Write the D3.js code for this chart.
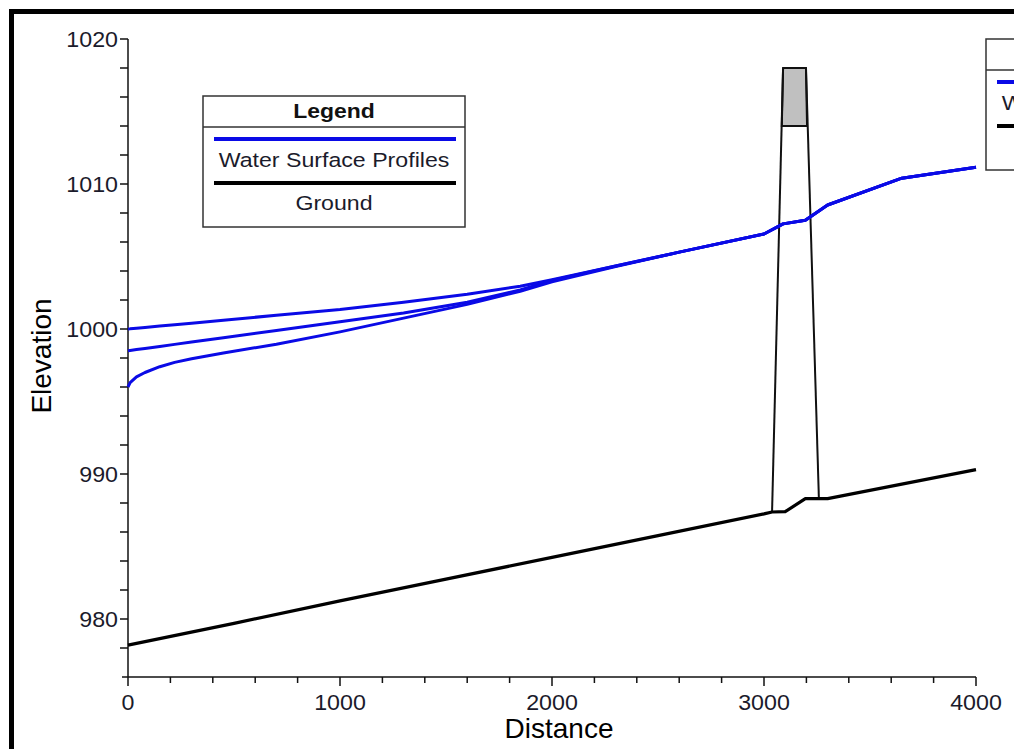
<!DOCTYPE html>
<html><head><meta charset="utf-8">
<script src="https://cdn.jsdelivr.net/npm/d3@7/dist/d3.min.js"></script>
<style>body{margin:0;background:#fff}svg{display:block}text{font-family:"Liberation Sans",Arial,sans-serif}</style>
</head><body>
<svg id="c" width="1014" height="749"></svg>
<script>
// ---- data ----
const profileDist = [0, 10, 40, 80, 150, 220, 300, 450, 700, 1000, 1300, 1600, 1850, 2000, 2300, 2600, 3000, 3090, 3195, 3300, 3650, 4000];
const wsProfile1 = [1000.0, 1000.01, 1000.05, 1000.1, 1000.2, 1000.29, 1000.4, 1000.6, 1000.95, 1001.35, 1001.85, 1002.4, 1002.95, 1003.4, 1004.35, 1005.3, 1006.55, 1007.25, 1007.5, 1008.55, 1010.4, 1011.15];
const wsProfile2 = [998.5, 998.52, 998.58, 998.66, 998.8, 998.94, 999.1, 999.4, 999.9, 1000.5, 1001.1, 1001.85, 1002.7, 1003.35, 1004.35, 1005.3, 1006.55, 1007.25, 1007.5, 1008.55, 1010.4, 1011.15];
const wsProfile3 = [996.0, 996.3, 996.7, 997.0, 997.4, 997.7, 997.95, 998.35, 998.95, 999.8, 1000.75, 1001.7, 1002.6, 1003.25, 1004.3, 1005.3, 1006.55, 1007.25, 1007.5, 1008.55, 1010.4, 1011.15];
const groundDist = [0, 500, 1000, 1500, 2000, 2500, 3000, 3038, 3100, 3195, 3300, 3650, 4000];
const groundElev = [978.2, 979.7, 981.25, 982.75, 984.25, 985.75, 987.25, 987.38, 987.4, 988.3, 988.3, 989.3, 990.3];
const bridgeDeckDist = [3090, 3198, 3203, 3084];
const bridgeDeckElev = [1018, 1018, 1014, 1014];
const bridgePierLeft = [[3090, 1018], [3038, 987.38]];
const bridgePierRight = [[3198, 1018], [3259, 988.27]];
const xMajorTicks = [0, 1000, 2000, 3000, 4000];
const yMajorTicks = [980, 990, 1000, 1010, 1020];
const legendItems = ["Water Surface Profiles", "Ground"];
const legendTitle = "Legend";
const xTitle = "Distance", yTitle = "Elevation";

// ---- chart ----
const svg = d3.select("#c");
const x = d3.scaleLinear().domain([0, 4000]).range([128, 976]);
const y = d3.scaleLinear().domain([976, 1020]).range([677, 39]);

// frame
svg.append("rect").attr("x", 11.5).attr("y", 11.5).attr("width", 1100).attr("height", 900)
  .attr("fill", "none").attr("stroke", "#000").attr("stroke-width", 5);

function stretchText(g, txt, px, py, size, sx, opts = {}) {
  return g.append("text").text(txt)
    .attr("transform", `translate(${px},${py}) scale(${sx},1)`)
    .attr("font-size", size)
    .attr("text-anchor", opts.anchor || "middle")
    .attr("font-weight", opts.weight || "normal")
    .attr("fill", opts.fill || "#1b1b2b");
}

// axes
const ax = svg.append("g").attr("stroke", "#111").attr("stroke-width", 1.5);
ax.append("line").attr("x1", x(0)).attr("x2", x(0)).attr("y1", y(1020)).attr("y2", y(976));
ax.append("line").attr("x1", x(0) - 6).attr("x2", x(4000)).attr("y1", y(976)).attr("y2", y(976));
const yMinor = d3.range(978, 1021, 2);
yMinor.forEach(v => ax.append("line").attr("x1", x(0) - 8).attr("x2", x(0)).attr("y1", y(v)).attr("y2", y(v)));
const xMinor = d3.range(0, 4001, 200);
xMinor.forEach(v => {
  const major = xMajorTicks.includes(v);
  ax.append("line").attr("x1", x(v)).attr("x2", x(v)).attr("y1", y(976)).attr("y2", y(976) + (major ? 9 : 6));
});
yMajorTicks.forEach(v => stretchText(svg, String(v), x(0) - 10, y(v) + 8, 21.5, 1.08, {anchor: "end"}));
xMajorTicks.forEach(v => stretchText(svg, String(v), x(v), 710, 21.5, 1.08));
stretchText(svg, xTitle, 559, 738, 28, 1, {fill: "#000"});
svg.append("text").text(yTitle).attr("transform", `translate(51,356) rotate(-90)`)
  .attr("font-size", 28).attr("text-anchor", "middle").attr("fill", "#000");

// bridge
const deckPts = bridgeDeckDist.map((d, i) => [x(d), y(bridgeDeckElev[i])]);
svg.append("polygon").attr("points", deckPts.map(p => p.join(",")).join(" "))
  .attr("fill", "#c0c0c0").attr("stroke", "#111").attr("stroke-width", 2);
const lineXY = d3.line().x(d => x(d[0])).y(d => y(d[1]));
[bridgePierLeft, bridgePierRight].forEach(p =>
  svg.append("path").attr("d", lineXY(p)).attr("fill", "none").attr("stroke", "#111").attr("stroke-width", 2));

// ground
const ground = groundDist.map((d, i) => [d, groundElev[i]]);
svg.append("path").attr("d", lineXY(ground)).attr("fill", "none").attr("stroke", "#000")
  .attr("stroke-width", 3.2).attr("stroke-linejoin", "round");

// water surface profiles
[wsProfile1, wsProfile2, wsProfile3].forEach(vals => {
  svg.append("path").attr("d", lineXY(profileDist.map((d, i) => [d, vals[i]])))
    .attr("fill", "none").attr("stroke", "#0a0ae6").attr("stroke-width", 3).attr("stroke-linejoin", "round");
});

// legends
function legend(lx, ly) {
  const g = svg.append("g");
  const w = 262, h = 131;
  g.append("rect").attr("x", lx).attr("y", ly).attr("width", w).attr("height", h)
    .attr("fill", "#fff").attr("stroke", "#333").attr("stroke-width", 1.5);
  g.append("line").attr("x1", lx).attr("x2", lx + w).attr("y1", ly + 31).attr("y2", ly + 31)
    .attr("stroke", "#333").attr("stroke-width", 1.5);
  stretchText(g, legendTitle, lx + w / 2, ly + 22, 20.5, 1.12, {weight: "bold", fill: "#111"});
  g.append("line").attr("x1", lx + 11).attr("x2", lx + w - 9).attr("y1", ly + 43).attr("y2", ly + 43)
    .attr("stroke", "#0a0ae6").attr("stroke-width", 4);
  g.append("line").attr("x1", lx + 11).attr("x2", lx + w - 9).attr("y1", ly + 87).attr("y2", ly + 87)
    .attr("stroke", "#000").attr("stroke-width", 4);
  stretchText(g, legendItems[0], lx + w / 2, ly + 71, 20.5, 1.13);
  stretchText(g, legendItems[1], lx + w / 2, ly + 114, 20.5, 1.13);
}
legend(203, 96);
legend(986, 39);
</script>
</body></html>
